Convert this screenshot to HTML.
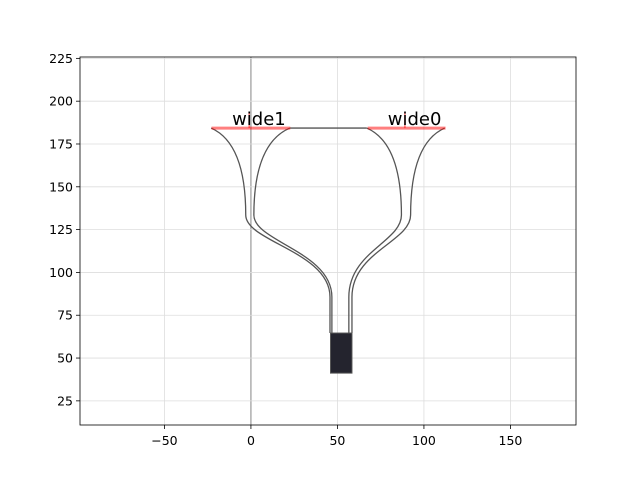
<!DOCTYPE html>
<html><head><meta charset="utf-8"><style>
body{margin:0;background:#fff}
svg{display:block;font-family:"DejaVu Sans","Liberation Sans",sans-serif}
</style></head><body>
<svg id="c" width="640" height="478" viewBox="0 0 640 478"></svg>
<script>
const xTicks=[-50,0,50,100,150];
const yTicks=[25,50,75,100,125,150,175,200,225];
const portLabels=["wide1","wide0"];
const portCenters=[0,90];
const portY=[184.3,184.3];
const portWidths=[45.5,45];
const padRect=[46,41.2,58.4,64.6];
const guides=[
 [[-23,184.3],[-9,178],[-3,160],[-3,133.5],[-3,118],[45.7,112],[45.7,85.6],[45.7,64.6]],
 [[22.5,184.3],[8,178],[1.7,160],[1.7,133.5],[1.7,118],[46.8,112],[46.8,85.6],[46.8,64.6]],
 [[67,184.3],[81,178],[87,160],[87,133.5],[87,118],[56.6,112],[56.6,85.6],[56.6,64.6]],
 [[112,184.3],[98,178],[92.3,160],[92.3,133.5],[92.3,118],[58.4,112],[58.4,85.6],[58.4,64.6]]
];
const topLink=[22.5,67,184.3];
const X0=80,X1=576,Y0=57,Y1=425;
const xmin=-98.8,xmax=187.9,ymin=10.9,ymax=225.8;
const sx=v=>X0+(v-xmin)/(xmax-xmin)*(X1-X0);
const sy=v=>Y1-(v-ymin)/(ymax-ymin)*(Y1-Y0);
const svg=document.getElementById('c');const NS='http://www.w3.org/2000/svg';
function mk(t,a,p){const e=document.createElementNS(NS,t);for(const k in a)e.setAttribute(k,a[k]);(p||svg).appendChild(e);return e;}
xTicks.forEach(t=>{const x=sx(t);
 const g=mk('line',{x1:x,x2:x,y1:Y0,y2:Y1,stroke:t===0?'#999':'#ddd','stroke-width':t===0?1.2:0.8});
 
 mk('line',{x1:x,x2:x,y1:Y1,y2:Y1+4,stroke:'#000','stroke-width':0.8});
 const tx=mk('text',{x:x,y:Y1+20,'text-anchor':'middle','font-size':12.5});tx.textContent=t<0?'\u2212'+(-t):t;
 });
yTicks.forEach(t=>{const y=sy(t);
 const g=mk('line',{x1:X0,x2:X1,y1:y,y2:y,stroke:'#ddd','stroke-width':0.8});
 
 mk('line',{x1:X0-4,x2:X0,y1:y,y2:y,stroke:'#000','stroke-width':0.8});
 const tx=mk('text',{x:X0-7,y:y+4.5,'text-anchor':'end','font-size':12.5});tx.textContent=t;
 });
const P=p=>sx(p[0])+','+sy(p[1]);
guides.forEach(g=>{const d='M'+P(g[0])+' C'+P(g[1])+' '+P(g[2])+' '+P(g[3])+' C'+P(g[4])+' '+P(g[5])+' '+P(g[6])+' L'+P(g[7]);
 const e=mk('path',{d:d,fill:'none',stroke:'#555','stroke-width':1.3});
 });
const tl=mk('line',{x1:sx(topLink[0]),x2:sx(topLink[1]),y1:sy(topLink[2]),y2:sy(topLink[2]),stroke:'#555','stroke-width':1.3});

const r=mk('rect',{x:sx(padRect[0]),y:sy(padRect[3]),width:sx(padRect[2])-sx(padRect[0]),height:sy(padRect[1])-sy(padRect[3]),fill:'#24242e',stroke:'#555','stroke-width':1});

portLabels.forEach((l,i)=>{const c=portCenters[i],w=portWidths[i],y=sy(portY[i]);
 const b=mk('line',{x1:sx(c-w/2),x2:sx(c+w/2),y1:y,y2:y,stroke:'rgba(255,0,0,0.5)','stroke-width':3});
 
 mk('line',{x1:sx(c-1),x2:sx(c-1),y1:y-16,y2:y,stroke:'rgba(255,0,0,0.5)','stroke-width':1.5});
 const t=mk('text',{x:sx(c)+8,y:y-3,'text-anchor':'middle','font-size':18});t.textContent=l;
 });
const fr=mk('rect',{x:X0,y:Y0,width:X1-X0,height:Y1-Y0,fill:'none',stroke:'#000','stroke-width':0.8});

</script>
</body></html>
